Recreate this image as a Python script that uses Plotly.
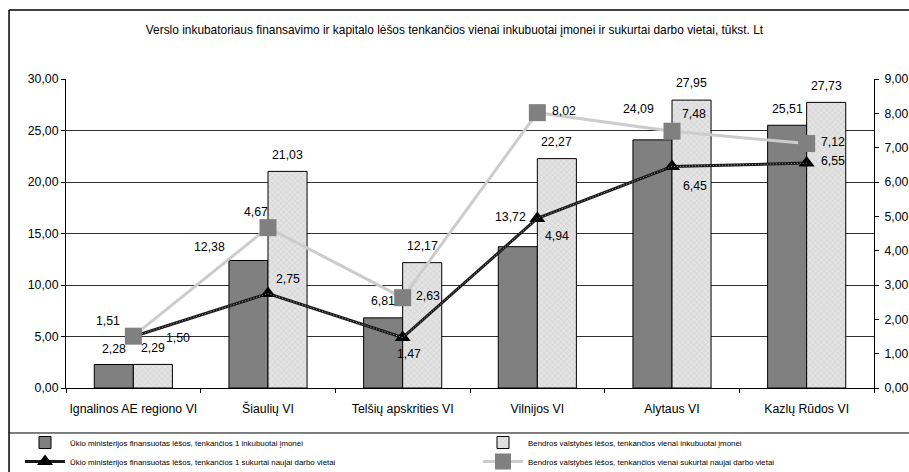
import plotly.graph_objects as go

categories = ["Ignalinos AE regiono VI", "Šiaulių VI", "Telšių apskrities VI",
              "Vilnijos VI", "Alytaus VI", "Kazlų Rūdos VI"]
uk_per_firm = [2.28, 12.38, 6.81, 13.72, 24.09, 25.51]
bv_per_firm = [2.29, 21.03, 12.17, 22.27, 27.95, 27.73]
uk_per_job = [1.50, 2.75, 1.47, 4.94, 6.45, 6.55]
bv_per_job = [1.51, 4.67, 2.63, 8.02, 7.48, 7.12]

names = [
    "Ūkio ministerijos finansuotas lėšos, tenkančios 1 inkubuotai įmonei",
    "Bendros valstybės lėšos, tenkančios vienai inkubuotai įmonei",
    "Ūkio ministerijos finansuotas lėšos, tenkančios 1 sukurtai naujai darbo vietai",
    "Bendros valstybės lėšos, tenkančios vienai sukurtai naujai darbo vietai",
]

# label offsets in pixels (dx, dy) relative to each mark
off_uk_bar = [(0, 16), (-39, 13), (0, 17), (-7, 30), (-14, 31), (0, 16)]
off_bv_bar = [(0, 16), (0, 16), (0, 17), (0, 17), (0, 17), (0, 16)]
off_uk_line = [(45, -1), (20, 15), (6, -16), (20, -18), (23, -19), (26, 2)]
off_bv_line = [(-25, 15), (-12, 16), (25, 2), (27, 2), (22, 17), (26, 2)]

FONT = "Liberation Sans, Arial, sans-serif"

fig = go.Figure()
fig.add_trace(go.Bar(
    x=categories, y=uk_per_firm, name=names[0], legend="legend",
    marker=dict(color="#808080", line=dict(color="#000000", width=1)),
))
fig.add_trace(go.Bar(
    x=categories, y=bv_per_firm, name=names[1], legend="legend2",
    marker=dict(color="#e0e0e0", line=dict(color="#000000", width=1),
                pattern=dict(shape="x", size=4, solidity=0.25, fgcolor="#b0b0b0",
                             bgcolor="#e4e4e4")),
))
fig.add_trace(go.Scatter(
    x=categories, y=uk_per_job, name=names[2], yaxis="y2", mode="lines+markers",
    legend="legend",
    line=dict(color="#1a1a1a", width=3),
    marker=dict(symbol="triangle-up", size=14, color="#000000"),
))
# fine texture on the dark line
fig.add_trace(go.Scatter(
    x=categories, y=uk_per_job, yaxis="y2", mode="lines", showlegend=False,
    hoverinfo="skip", line=dict(color="#9a9a9a", width=1, dash="1px,2px"),
))
fig.add_trace(go.Scatter(
    x=categories, y=bv_per_job, name=names[3], yaxis="y2", mode="lines+markers",
    legend="legend2",
    line=dict(color="#cccccc", width=3),
    marker=dict(symbol="square", size=17, color="#808080"),
))

def fmt(v):
    return f"{v:.2f}".replace(".", ",")

annotations = []
for i, c in enumerate(categories):
    for vals, offs, base_dx, yref in [
        (uk_per_firm, off_uk_bar, -19.5, "y"),
        (bv_per_firm, off_bv_bar, 19.5, "y"),
        (uk_per_job, off_uk_line, 0, "y2"),
        (bv_per_job, off_bv_line, 0, "y2"),
    ]:
        dx, dy = offs[i]
        annotations.append(dict(
            x=c, y=vals[i], xref="x", yref=yref, text=fmt(vals[i]),
            showarrow=False, xshift=base_dx + dx, yshift=dy,
            xanchor="center", yanchor="middle",
            font=dict(family=FONT, size=12.3, color="#000000"),
        ))

shapes = [
    # outer frame (left and top) and legend separator
    dict(type="line", xref="paper", yref="paper", x0=-0.0705, x1=-0.0705, y0=1.2233, y1=-0.28,
         line=dict(color="#000000", width=1.5)),
    dict(type="line", xref="paper", yref="paper", x0=-0.0705, x1=1.05, y0=1.2233, y1=1.2233,
         line=dict(color="#000000", width=1.5)),
    dict(type="line", xref="paper", yref="paper", x0=-0.0705, x1=1.05, y0=-0.1456, y1=-0.1456,
         line=dict(color="#000000", width=1)),
]

legend_style = dict(
    orientation="v", xref="container", yref="container",
    xanchor="left", yanchor="top", traceorder="normal",
    font=dict(family=FONT, size=7.9, color="#000000"),
    tracegroupgap=0, itemwidth=40, bgcolor="rgba(0,0,0,0)",
)

fig.update_layout(
    width=909, height=472,
    margin=dict(l=66, r=35, t=79, b=84, autoexpand=False),
    paper_bgcolor="white", plot_bgcolor="white",
    separators=", ",
    barmode="group", bargap=0.42, bargroupgap=0,
    font=dict(family=FONT, size=12.3, color="#000000"),
    title=dict(
        text="Verslo inkubatoriaus finansavimo ir kapitalo lėšos tenkančios vienai inkubuotai įmonei ir sukurtai darbo vietai, tūkst. Lt",
        x=0.5, xanchor="center", y=0.936, yanchor="middle",
        font=dict(family=FONT, size=11.9, color="#000000"),
    ),
    xaxis=dict(
        showline=True, linecolor="#000000", linewidth=1,
        ticks="outside", ticklen=4, tickcolor="#000000", tickson="boundaries",
        showgrid=False, tickfont=dict(size=12.3), tickangle=0,
        ticklabelstandoff=9,
    ),
    yaxis=dict(
        range=[0, 30], dtick=5, tickformat=".2f",
        showline=True, linecolor="#000000", linewidth=1,
        ticks="outside", ticklen=4, tickcolor="#000000",
        showgrid=True, gridcolor="#303030", gridwidth=1, zeroline=False,
        tickfont=dict(size=12.3),
    ),
    yaxis2=dict(
        range=[0, 9], dtick=1, tickformat=".2f", overlaying="y", side="right",
        showline=True, linecolor="#000000", linewidth=1,
        ticks="outside", ticklen=4, tickcolor="#000000",
        showgrid=False, zeroline=False, tickfont=dict(size=12.3),
        ticklabelstandoff=3,
    ),
    legend=dict(legend_style, x=20 / 909, y=1 - 428 / 472),
    legend2=dict(legend_style, x=478 / 909, y=1 - 428 / 472),
    annotations=annotations,
    shapes=shapes,
)

fig.write_html("out.html", config={"displayModeBar": False},
               post_script="document.body.style.margin='0';")
